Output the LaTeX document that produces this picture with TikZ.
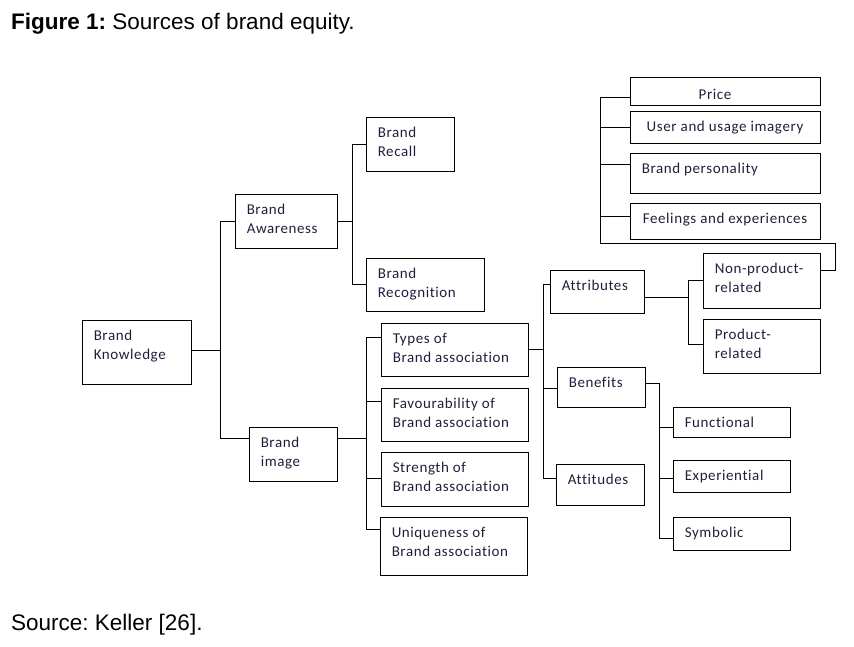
\documentclass[tikz,border=0pt]{standalone}
\usepackage{fontspec}
\setmainfont{Liberation Sans}
\newfontfamily\boxfont[LetterSpace=4, Ligatures={NoCommon, NoRequired, NoContextual}]{Carlito}
\definecolor{boxtext}{rgb}{0.12,0.12,0.24}
\frenchspacing
\tikzset{
  box/.style={draw, line width=0.9pt, inner sep=0pt},
  txt/.style={anchor=north west, align=left, inner xsep=12pt, inner ysep=10pt,
    text=boxtext, font=\boxfont\fontsize{15}{19}\selectfont},
  link/.style={line width=0.9pt}
}
\begin{document}
\begin{tikzpicture}[x=1pt,y=-1pt]
\useasboundingbox (0,0) rectangle (854,646);
% titles
\node[anchor=base west, inner sep=0pt, font=\fontsize{22.5}{25}\selectfont] (title) at (11,29.3) {\textbf{Figure 1:} Sources of brand equity.};
\node[anchor=base west, inner sep=0pt, font=\fontsize{22.5}{25}\selectfont] (source) at (11,630) {Source: Keller [26].};
% boxes
\node[box, minimum width=109pt, minimum height=64pt, label={[txt]north west:{Brand\\Knowledge}}] (knowledge) at (136.5,352) {};
\node[box, minimum width=102pt, minimum height=54pt, label={[txt]north west:{Brand\\Awareness}}] (awareness) at (286,221) {};
\node[box, minimum width=88pt, minimum height=54pt, label={[txt]north west:{Brand\\Recall}}] (recall) at (410,144) {};
\node[box, minimum width=118pt, minimum height=53pt, label={[txt]north west:{Brand\\Recognition}}] (recognition) at (425,284.5) {};
\node[box, minimum width=88pt, minimum height=54pt, label={[txt]north west:{Brand\\image}}] (image) at (293,454) {};
\node[box, minimum width=147pt, minimum height=53pt, label={[txt]north west:{Types of\\Brand association}}] (types) at (454.5,349.5) {};
\node[box, minimum width=147pt, minimum height=53pt, label={[txt]north west:{Favourability of\\Brand association}}] (favour) at (454.5,414.5) {};
\node[box, minimum width=147pt, minimum height=54pt, label={[txt]north west:{Strength of\\Brand association}}] (strength) at (454.5,479) {};
\node[box, minimum width=147pt, minimum height=58pt, label={[txt]north west:{Uniqueness of\\Brand association}}] (unique) at (453.5,546) {};
\node[box, minimum width=94pt, minimum height=43pt, label={[txt]north west:{Attributes}}] (attributes) at (597,291.5) {};
\node[box, minimum width=88pt, minimum height=40pt, label={[txt]north west:{Benefits}}] (benefits) at (601,387) {};
\node[box, minimum width=88pt, minimum height=41pt, label={[txt]north west:{Attitudes}}] (attitudes) at (600,484.5) {};
\node[box, minimum width=117pt, minimum height=55pt, label={[txt]north west:{Non-product-\\related}}] (nonprod) at (761.5,280.5) {};
\node[box, minimum width=117pt, minimum height=54pt, label={[txt]north west:{Product-\\related}}] (prod) at (761.5,346) {};
\node[box, minimum width=117pt, minimum height=30pt, label={[txt]north west:{Functional}}] (functional) at (731.5,422) {};
\node[box, minimum width=117pt, minimum height=32pt, label={[txt]north west:{Experiential}}] (experiential) at (731.5,476) {};
\node[box, minimum width=117pt, minimum height=33pt, label={[txt]north west:{Symbolic}}] (symbolic) at (731.5,533.5) {};
\node[box, minimum width=190pt, minimum height=28pt, label={[txt, anchor=north, xshift=-10pt, yshift=-2pt]north:{Price}}] (price) at (725,91) {};
\node[box, minimum width=190pt, minimum height=32pt, label={[txt, anchor=north]north:{User and usage imagery}}] (user) at (725,127) {};
\node[box, minimum width=190pt, minimum height=40pt, label={[txt]north west:{Brand personality}}] (personality) at (725,173) {};
\node[box, minimum width=190pt, minimum height=36pt, label={[txt, anchor=north]north:{Feelings and experiences}}] (feelings) at (725,221) {};
% connectors
\draw[link] ([yshift=2pt]knowledge.east) -- ++(29,0) coordinate (kb);
\draw[link] (kb) |- (awareness.west);
\draw[link] (kb) |- ([yshift=16pt]image.west);
\draw[link] (awareness.east) -- ++(15,0) coordinate (ab);
\draw[link] (ab) |- (recall.west);
\draw[link] (ab) |- (recognition.west);
\draw[link] ([yshift=16pt]image.east) -- ++(29,0) coordinate (ib);
\draw[link] (ib) |- ([yshift=12.5pt]types.west);
\draw[link] (ib) |- ([yshift=13.5pt]favour.west);
\draw[link] (ib) |- ([yshift=1pt]strength.west);
\draw[link] (ib) |- ([yshift=17pt]unique.west);
\draw[link] (types.east) -- ++(15,0) coordinate (tb);
\draw[link] (tb) |- ([yshift=7.5pt]attributes.west);
\draw[link] (tb) |- ([yshift=-1pt]benefits.west);
\draw[link] (tb) |- ([yshift=6.5pt]attitudes.west);
\draw[link] ([yshift=-5.5pt]attributes.east) -- ++(44,0) coordinate (atb);
\draw[link] (atb) |- (nonprod.west);
\draw[link] (atb) |- ([yshift=2pt]prod.west);
\draw[link] ([yshift=4pt]benefits.east) -- ++(14,0) coordinate (bb);
\draw[link] (bb) |- ([yshift=-5pt]functional.west);
\draw[link] (bb) |- ([yshift=-2pt]experiential.west);
\draw[link] (bb) |- ([yshift=-4.5pt]symbolic.west);
\draw[link] ([yshift=10.5pt]nonprod.east) -- ++(15,0) -- ++(0,-27) -| ([xshift=-29pt,yshift=-6pt]price.west) -- ([yshift=-6pt]price.west);
\draw[link] ([xshift=-29pt]user.west) -- (user.west);
\draw[link] ([xshift=-29pt,yshift=9pt]personality.west) -- ([yshift=9pt]personality.west);
\draw[link] ([xshift=-29pt,yshift=5pt]feelings.west) -- ([yshift=5pt]feelings.west);
\end{tikzpicture}
\end{document}
